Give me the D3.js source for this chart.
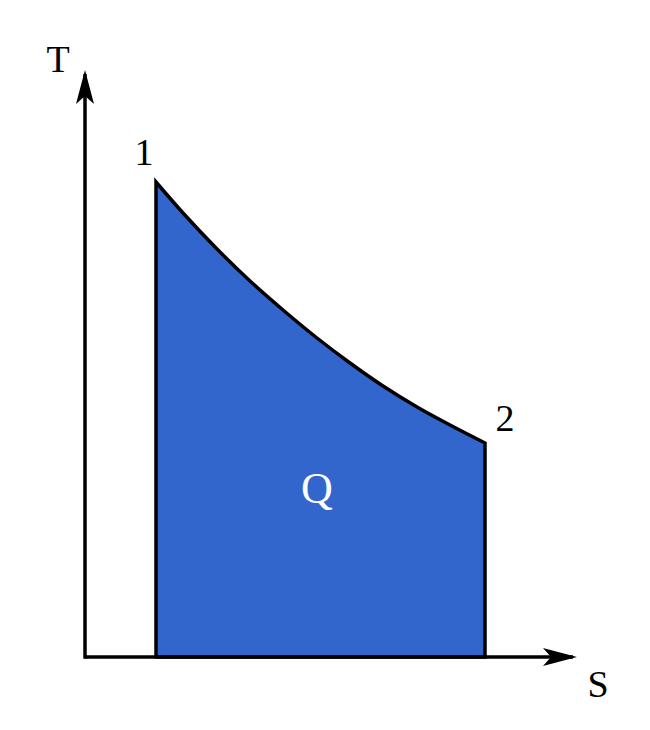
<!DOCTYPE html>
<html>
<head>
<meta charset="utf-8">
<script src="https://cdn.jsdelivr.net/npm/d3@7"></script>
<style>
  body { margin: 0; background: #fff; }
</style>
</head>
<body>
<svg id="chart"></svg>
<script>
// Кривая процесса 1-2 (энтропия S, температура T) в условных единицах
let sValues = [71, 98, 132, 165, 198, 232, 265, 298, 332, 365, 400];
let tValues = [475, 444, 408, 376, 347, 319, 294, 271, 250, 232, 214];
let pointLabels = ["1", "2"];
let axisLabels = ["S", "T"];
let areaLabel = "Q";

let fontFamily = "'Liberation Serif', 'Times New Roman', serif";

function drawDiagram() {
    let width = 650;
    let height = 730;
    let svg = d3.select("#chart")
        .attr("width", width)
        .attr("height", height);

    // шкалы: начало координат в точке (85, 657)
    let scaleX = d3.scaleLinear().domain([0, 490]).range([85, 575]);
    let scaleY = d3.scaleLinear().domain([0, 585]).range([657, 72]);

    let points = sValues.map((s, i) => ({ s: s, t: tValues[i] }));

    // закрашенная площадь под кривой
    let area = d3.area()
        .x(d => scaleX(d.s))
        .y0(scaleY(0))
        .y1(d => scaleY(d.t))
        .curve(d3.curveCatmullRom.alpha(0.5));

    svg.append("path")
        .datum(points)
        .attr("d", area)
        .attr("fill", "#3366cc")
        .attr("stroke", "#000")
        .attr("stroke-width", 3.5)
        .attr("stroke-linejoin", "miter");

    // стрелки осей
    let defs = svg.append("defs");
    defs.append("marker")
        .attr("id", "arrow")
        .attr("viewBox", "0 0 34 18")
        .attr("refX", 30)
        .attr("refY", 9)
        .attr("markerWidth", 34)
        .attr("markerHeight", 18)
        .attr("markerUnits", "userSpaceOnUse")
        .attr("orient", "auto")
        .append("path")
        .attr("d", "M0,0 L34,9 L0,18 L8,9 Z")
        .attr("fill", "#000");

    // оси
    svg.append("line")
        .attr("x1", scaleX(0)).attr("y1", scaleY(0))
        .attr("x2", scaleX(488)).attr("y2", scaleY(0))
        .attr("stroke", "#000").attr("stroke-width", 3.5)
        .attr("marker-end", "url(#arrow)");
    svg.append("line")
        .attr("x1", scaleX(0)).attr("y1", scaleY(0) + 1.75)
        .attr("x2", scaleX(0)).attr("y2", scaleY(583))
        .attr("stroke", "#000").attr("stroke-width", 3.5)
        .attr("marker-end", "url(#arrow)");

    // подписи осей
    svg.append("text")
        .attr("x", 598).attr("y", 697)
        .attr("text-anchor", "middle")
        .attr("font-family", fontFamily)
        .attr("font-size", 38)
        .text(axisLabels[0]);
    svg.append("text")
        .attr("x", 58).attr("y", 72)
        .attr("text-anchor", "middle")
        .attr("font-family", fontFamily)
        .attr("font-size", 38)
        .text(axisLabels[1]);

    // подписи точек 1 и 2
    let first = points[0];
    let last = points[points.length - 1];
    svg.append("text")
        .attr("x", scaleX(first.s) - 12).attr("y", scaleY(first.t) - 17)
        .attr("text-anchor", "middle")
        .attr("font-family", fontFamily)
        .attr("font-size", 38)
        .text(pointLabels[0]);
    svg.append("text")
        .attr("x", scaleX(last.s) + 20).attr("y", scaleY(last.t) - 12)
        .attr("text-anchor", "middle")
        .attr("font-family", fontFamily)
        .attr("font-size", 38)
        .text(pointLabels[1]);

    // подпись площади
    svg.append("text")
        .attr("x", 317).attr("y", 503)
        .attr("text-anchor", "middle")
        .attr("font-family", fontFamily)
        .attr("font-size", 44)
        .attr("fill", "#fff")
        .text(areaLabel);
}

drawDiagram();
</script>
</body>
</html>
